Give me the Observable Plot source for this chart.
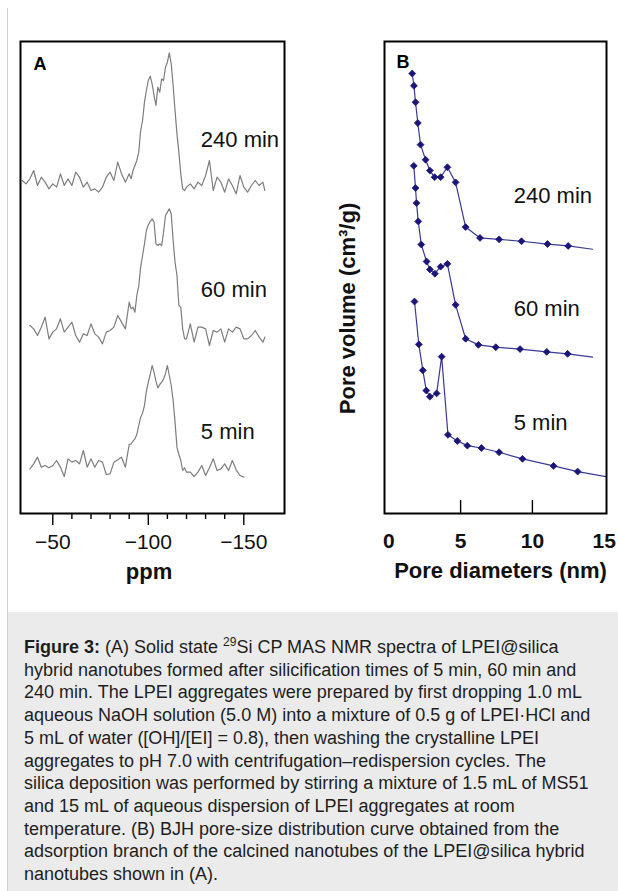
<!DOCTYPE html>
<html>
<head>
<meta charset="utf-8">
<script src="https://cdn.jsdelivr.net/npm/d3@7"></script>
<script src="https://cdn.jsdelivr.net/npm/@observablehq/plot@0.6"></script>
<style>
  html, body { margin: 0; padding: 0; background: #fff; }
  #page { position: relative; width: 618px; height: 891px; overflow: hidden; background: #fff; font-family: "Liberation Sans", Arial, sans-serif; }
  #edge { position: absolute; left: 7px; top: 8px; bottom: 0; border-left: 1px solid #d2d2d2; }
  #panelA { position: absolute; left: 0; top: 0; }
  #panelB { position: absolute; left: 310px; top: 0; }
  #caption { position: absolute; left: 8px; top: 612px; right: 0; bottom: 0; background: #ebebeb;
             padding: 24px 0 0 16px; font-size: 18px; line-height: 22.7px; color: #1e1e1e; white-space: nowrap; }
  #caption sup { font-size: 12px; line-height: 0; vertical-align: 7px; }
  svg { overflow: visible; }
</style>
</head>
<body>
<div id="page">
  <div id="edge"></div>
  <div id="panelA"></div>
  <div id="panelB"></div>
  <div id="caption"><b>Figure 3:</b> (A) Solid state <sup>29</sup>Si CP MAS NMR spectra of LPEI@silica<br>hybrid nanotubes formed after silicification times of 5 min, 60 min and<br>240 min. The LPEI aggregates were prepared by first dropping 1.0 mL<br>aqueous NaOH solution (5.0 M) into a mixture of 0.5 g of LPEI·HCl and<br>5 mL of water ([OH]/[EI] = 0.8), then washing the crystalline LPEI<br>aggregates to pH 7.0 with centrifugation–redispersion cycles. The<br>silica deposition was performed by stirring a mixture of 1.5 mL of MS51<br>and 15 mL of aqueous dispersion of LPEI aggregates at room<br>temperature. (B) BJH pore-size distribution curve obtained from the<br>adsorption branch of the calcined nanotubes of the LPEI@silica hybrid<br>nanotubes shown in (A).</div>
</div>
<script>
// ---------- Panel A: 29Si CP MAS NMR spectra (intensity a.u., stacked with offsets) ----------
const ppm = [-34,-36,-38,-40,-42,-44,-46,-48,-50,-52,-54,-56,-58,-60,-62,-64,-66,-68,-70,-72,-74,-76,-78,-80,-82,-84,-86,-88,
  -90,-91,-92,-93,-94,-95,-96,-97,-98,-99,-100,-101,-102,-103,-104,-105,-106,-107,-108,-109,-110,-111,-112,-113,-114,-115,-116,-117,-118,-119,-120,
  -122,-124,-126,-128,-130,-132,-134,-136,-138,-140,-142,-144,-146,-148,-150,-152,-154,-156,-158,-160,-161];
const nmr240 = [45,35,50,75,30,55,40,20,35,25,65,30,50,30,70,55,25,40,15,20,10,25,55,70,45,100,65,40,
  65,50,75,90,105,130,195,225,280,315,345,358,335,300,270,325,310,350,345,385,400,428,395,330,255,185,130,65,20,15,25,
  35,20,40,30,60,105,15,55,40,10,50,30,5,60,25,10,30,45,30,40,15];
const nmr60 = [null,null,60,50,30,55,85,20,40,50,80,40,55,70,30,10,35,30,65,35,25,5,40,45,55,90,70,50,
  130,110,115,100,150,178,235,270,305,345,362,372,380,370,305,300,305,300,340,390,400,410,395,315,250,210,120,115,50,20,20,
  65,10,55,55,50,0,45,40,50,10,50,40,55,50,20,20,30,45,25,10,25];
const nmr5 = [null,null,95,110,130,100,105,98,105,120,100,72,125,115,120,110,150,100,125,100,120,115,78,80,115,122,130,100,
  168,170,178,185,198,225,250,262,285,328,355,378,405,385,358,338,348,355,365,380,405,375,345,300,235,160,138,120,90,98,85,
  85,72,85,105,75,98,125,90,95,110,90,120,92,75,70,null,null,null,null,null,null];
const nmrSeries = ["240 min", "60 min", "5 min"];
const nmrOffsets = [954, 504, 39];
const nmrLabelY = [1120, 670, 246];
const nmrLabelPpm = -127.5;
const ppmMajor = [-50, -100, -150];
const ppmMinor = [-60, -70, -80, -90, -110, -120, -130, -140];

// ---------- Panel B: BJH pore-size distribution (pore volume a.u., stacked) ----------
const bjhSeries = ["240 min", "60 min", "5 min"];
const bjhX = [
  [1.63,1.75,1.86,2.02,2.21,2.56,2.86,3.19,3.61,4.08,4.65,5.35,6.35,7.68,9.24,11.05,12.49,14.19],
  [1.74,1.86,1.93,2.05,2.26,2.63,2.86,3.21,3.61,4.08,4.65,5.35,6.24,7.45,9.14,11.0,12.45,14.19],
  [1.79,2.09,2.37,2.61,2.86,3.33,3.68,4.12,4.77,5.47,6.45,7.68,9.31,11.47,13.15,15.2]
];
const bjhY = [
  [93.4,90.8,87.3,82.9,78.3,75.1,72.8,71.4,71.4,73.5,70.3,60.8,58.5,58.2,57.8,57.2,56.8,56.1],
  [73.8,69.1,65.9,62.0,57.1,53.5,51.8,50.9,52.4,53.0,44.3,37.1,35.8,35.3,34.9,34.3,33.9,33.2],
  [45.0,35.9,30.4,26.1,24.8,25.5,33.3,16.7,15.4,14.4,13.9,13.0,11.6,10.1,8.9,7.8]
];
const bjhLabelY = [67.5, 43.4, 19.3];
const bjhLabelX = 8.7;
const bjhTicks = [0, 5, 10, 15];
const bjhInnerTicks = [5, 10];

const FONT = "'Liberation Sans', Arial, sans-serif";

// build tables
const nmrRows = [];
nmrSeries.forEach((s, k) => {
  const vals = [nmr240, nmr60, nmr5][k];
  vals.forEach((v, i) => { if (v != null) nmrRows.push({series: s, ppm: ppm[i], y: nmrOffsets[k] + v}); });
});
const nmrLabels = nmrSeries.map((s, k) => ({label: s, ppm: nmrLabelPpm, y: nmrLabelY[k]}));

const bjhRows = [];
bjhSeries.forEach((s, k) => {
  bjhX[k].forEach((x, i) => bjhRows.push({series: s, x, y: bjhY[k][i], last: i === bjhX[k].length - 1}));
});
const bjhLabels = bjhSeries.map((s, k) => ({label: s, x: bjhLabelX, y: bjhLabelY[k]}));

const H = 600, MT = 41, MB = 87;

const plotA = Plot.plot({
  width: 310, height: H, marginLeft: 20, marginRight: 26, marginTop: MT, marginBottom: MB,
  style: {fontFamily: FONT, background: "transparent", overflow: "visible", color: "#000"},
  x: {domain: [-33.1, -171.3]},
  y: {domain: [0, 1416], axis: null},
  marks: [
    Plot.line(nmrRows, {x: "ppm", y: "y", z: "series", stroke: "#7d7d7d", strokeWidth: 1.2}),
    Plot.frame({stroke: "#000", strokeWidth: 2}),
    Plot.axisX({ticks: ppmMinor, tickSize: 6, tickFormat: () => "", strokeWidth: 1.4, label: null}),
    Plot.axisX({ticks: ppmMajor, tickSize: 12, tickPadding: 9, tickFormat: d3.format("d"), strokeWidth: 1.4,
                fontSize: 21, fill: "#111", label: null}),
    Plot.text(nmrLabels, {x: "ppm", y: "y", text: "label", textAnchor: "start", fontSize: 22, fill: "#111"}),
    Plot.text(["A"], {frameAnchor: "top-left", dx: 13, dy: 16, lineAnchor: "top", textAnchor: "start",
                      fontSize: 18, fontWeight: "bold", fill: "#000"}),
    Plot.text(["ppm"], {frameAnchor: "bottom", dx: -3.5, dy: 58, lineAnchor: "middle", textAnchor: "middle",
                        fontSize: 22, fontWeight: "bold", fill: "#111"})
  ]
});
document.getElementById("panelA").append(plotA);

const plotB = Plot.plot({
  width: 308, height: H, marginLeft: 74, marginRight: 12, marginTop: MT, marginBottom: MB,
  style: {fontFamily: FONT, background: "transparent", overflow: "visible", color: "#000"},
  x: {domain: [-0.3, 15.16]},
  y: {domain: [0, 100.2], axis: null},
  marks: [
    Plot.line(bjhRows, {x: "x", y: "y", z: "series", stroke: "#3a3a96", strokeWidth: 1.2, clip: true}),
    Plot.dot(bjhRows.filter(d => !d.last), {x: "x", y: "y", symbol: "diamond2", r: 3.1, fill: "#1b1577", stroke: "#1b1577", strokeWidth: 0.8}),
    Plot.frame({stroke: "#000", strokeWidth: 2}),
    Plot.tickX(bjhInnerTicks, {x: d => d, insetTop: H - MT - MB - 13, stroke: "#000", strokeWidth: 1.4}),
    Plot.axisX({ticks: bjhTicks, tickSize: 0, tickPadding: 20, fontSize: 21, fontWeight: "bold", fill: "#111", label: null}),
    Plot.text(bjhLabels, {x: "x", y: "y", text: "label", textAnchor: "start", fontSize: 22, fill: "#111"}),
    Plot.text(["B"], {frameAnchor: "top-left", dx: 12, dy: 13.5, lineAnchor: "top", textAnchor: "start",
                      fontSize: 18, fontWeight: "bold", fill: "#000"}),
    Plot.text(["Pore diameters (nm)"], {frameAnchor: "bottom", dx: 5, dy: 57, lineAnchor: "middle", textAnchor: "middle",
                                        fontSize: 22, fontWeight: "bold", fill: "#111"}),
    Plot.text(["Pore volume (cm³/g)"], {frameAnchor: "left", rotate: -90, dx: -37, dy: 31, lineAnchor: "middle", textAnchor: "middle",
                                        fontSize: 22, fontWeight: "bold", fill: "#111"})
  ]
});
document.getElementById("panelB").append(plotB);
</script>
</body>
</html>
